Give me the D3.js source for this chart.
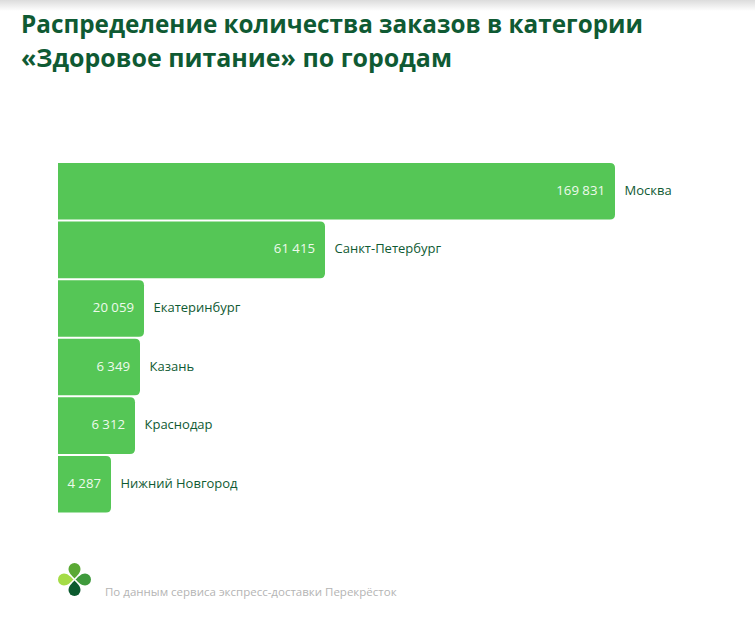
<!DOCTYPE html>
<html><head><meta charset="utf-8">
<script src="https://cdn.jsdelivr.net/npm/d3@7/dist/d3.min.js"></script>
<style>html,body{margin:0;padding:0;background:#fff}svg{display:block}text{font-family:"Open Sans",sans-serif}</style>
</head><body><div id="chart"></div>
<script>
const cities = ["Москва","Санкт-Петербург","Екатеринбург","Казань","Краснодар","Нижний Новгород"];
const orders = [169831,61415,20059,6349,6312,4287];
const valueLabels = ["169 831","61 415","20 059","6 349","6 312","4 287"];
const titleLines = ["Распределение количества заказов в категории","«Здоровое питание» по городам"];
const source = "По данным сервиса экспресс-доставки Перекрёсток";

const W=755,H=631,dark="#0f5a33",green="#55c656";
const svg=d3.select("#chart").append("svg").attr("width",W).attr("height",H);
const defs=svg.append("defs");
const g=defs.append("linearGradient").attr("id","top").attr("x1",0).attr("x2",0).attr("y1",0).attr("y2",1);
g.append("stop").attr("offset",0).attr("stop-color","#dcdcdc");
g.append("stop").attr("offset",1).attr("stop-color","#ffffff");
svg.append("rect").attr("width",W).attr("height",11).attr("fill","url(#top)");

const titleWidths=[622,431];
svg.selectAll("text.title").data(titleLines).join("text").attr("class","title")
  .attr("x",21).attr("y",(d,i)=>33+i*34).attr("fill",dark)
  .attr("font-size",25).attr("font-weight",700)
  .attr("textLength",(d,i)=>titleWidths[i]).attr("lengthAdjust","spacingAndGlyphs").text(d=>d);

// The reference's bars are not proportional to their values: the scale is piecewise to follow them.
const x=d3.scaleLinear().domain([0,4287,6312,6349,20059,61415,169831]).range([58,111,135,140,144,325,615]);
const y=d3.scaleBand().domain(cities).range([163,512.5]).paddingInner(0.035);
const r=5;
const rows=svg.selectAll("g.row").data(cities.map((c,i)=>({c,v:orders[i],l:valueLabels[i]}))).join("g").attr("class","row");
rows.append("path").attr("fill",green).attr("d",d=>{
  const x0=x(0),x1=x(d.v),y0=y(d.c),y1=y0+y.bandwidth();
  return `M${x0},${y0}H${x1-r}Q${x1},${y0} ${x1},${y0+r}V${y1-r}Q${x1},${y1} ${x1-r},${y1}H${x0}Z`;
});
rows.append("text").attr("x",d=>x(d.v)-10).attr("y",d=>y(d.c)+y.bandwidth()/2+3.5)
  .attr("text-anchor","end").attr("fill","#eefaec").attr("font-size",13.2).text(d=>d.l);
rows.append("text").attr("x",d=>x(d.v)+9.5).attr("y",d=>y(d.c)+y.bandwidth()/2+3.5)
  .attr("fill",dark).attr("font-size",13).text(d=>d.c);

svg.append("text").attr("x",105).attr("y",596).attr("fill","#b4b4b4").attr("font-size",11.5).text(source);

const logo=svg.append("g").attr("transform","translate(74.5,579.5)");
[["#5aa934",0],["#3f9a3c",90],["#0b5a2e",180],["#a4dc46",270]].forEach(([c,a])=>{
  logo.append("path").attr("fill",c).attr("transform",`rotate(${a})`)
    .attr("d","M0,-1C-3,-4 -6,-7 -6,-10.5A6,6 0 0 1 6,-10.5C6,-7 3,-4 0,-1Z");
});
</script></body></html>
